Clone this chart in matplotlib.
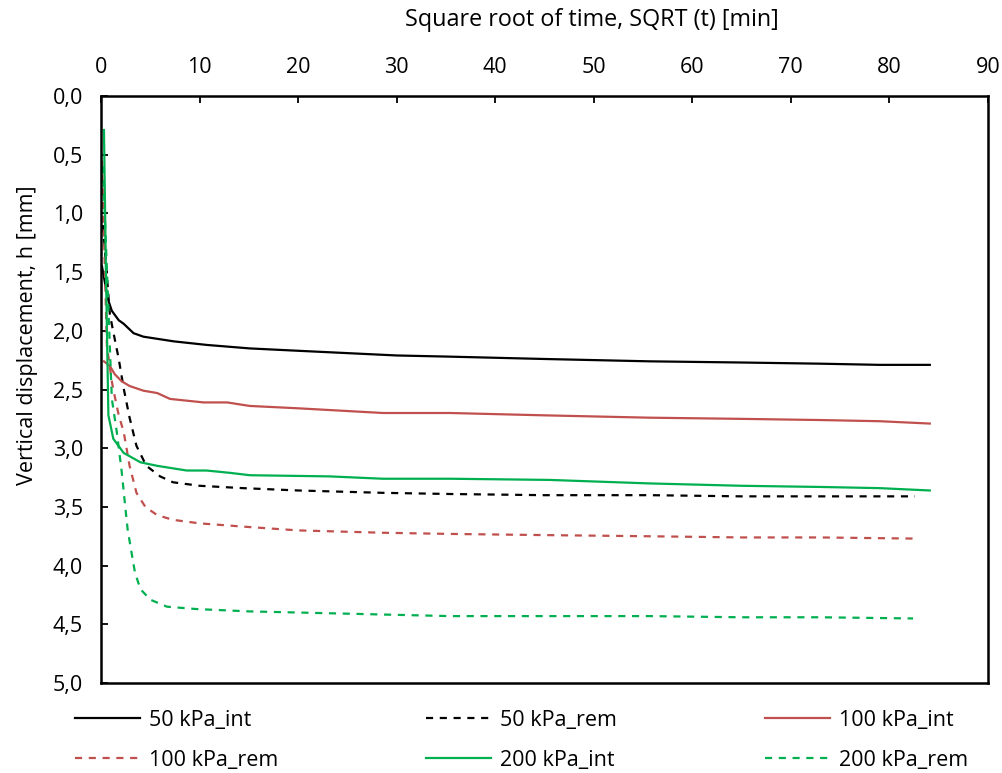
import matplotlib
matplotlib.use("Agg")
import matplotlib.pyplot as plt
import numpy as np

plt.rcParams['font.family'] = ['Open Sans', 'DejaVu Sans']

# ---- data (sqrt(t) [min], vertical displacement h [mm]) ----
x_50_int = [0.1, 0.7, 1.1, 1.8, 2.3, 2.8, 3.3, 4.3, 7.4, 10.7, 15.1, 20, 25, 30, 35.4, 45, 55.7, 65, 73, 79, 84.1]
h_50_int = [1.45, 1.73, 1.83, 1.91, 1.94, 1.98, 2.02, 2.05, 2.09, 2.12, 2.15, 2.17, 2.19, 2.21, 2.22, 2.24, 2.26, 2.27, 2.28, 2.29, 2.29]

x_50_rem = [0.2, 0.9, 1.25, 1.8, 2.3, 2.9, 3.6, 4.6, 6.0, 7.3, 10.0, 14.4, 20, 28.6, 35.4, 45, 55.7, 65, 73, 82.6]
h_50_rem = [1.1, 1.86, 2.01, 2.24, 2.49, 2.74, 2.98, 3.15, 3.24, 3.29, 3.32, 3.34, 3.36, 3.38, 3.39, 3.40, 3.40, 3.41, 3.41, 3.41]

x_100_int = [0.3, 0.9, 1.4, 2.1, 2.9, 4.3, 5.7, 7.0, 10.4, 12.8, 15.1, 20, 28.6, 35.4, 45, 55.7, 65, 73, 79, 84.1]
h_100_int = [2.26, 2.30, 2.37, 2.43, 2.47, 2.51, 2.53, 2.58, 2.61, 2.61, 2.64, 2.66, 2.70, 2.70, 2.72, 2.74, 2.75, 2.76, 2.77, 2.79]

x_100_rem = [0.1, 0.6, 1.1, 1.25, 1.8, 2.3, 2.9, 3.6, 4.5, 5.7, 7.3, 10.0, 14.8, 20, 28.6, 35.4, 45, 55.7, 65, 73, 82.8]
h_100_rem = [0.55, 2.13, 2.43, 2.50, 2.72, 2.86, 3.15, 3.38, 3.50, 3.57, 3.61, 3.64, 3.67, 3.70, 3.72, 3.73, 3.74, 3.75, 3.76, 3.76, 3.77]

x_200_int = [0.3, 0.5, 0.75, 1.25, 2.3, 4.0, 5.7, 8.7, 10.7, 13.1, 15.1, 23.2, 28.6, 35.4, 45.5, 55.7, 65, 73, 79, 84.1]
h_200_int = [0.29, 1.5, 2.72, 2.92, 3.04, 3.12, 3.15, 3.19, 3.19, 3.21, 3.23, 3.24, 3.26, 3.26, 3.27, 3.30, 3.32, 3.33, 3.34, 3.36]

x_200_rem = [0.2, 1.1, 1.6, 2.1, 2.45, 2.7, 3.1, 3.45, 4.0, 5.0, 6.7, 9.7, 12.4, 15.1, 25.3, 35.4, 45, 55.7, 65, 73, 82.4]
h_200_rem = [0.6, 2.58, 2.86, 3.2, 3.49, 3.69, 3.89, 4.06, 4.2, 4.29, 4.35, 4.37, 4.38, 4.39, 4.41, 4.43, 4.43, 4.43, 4.44, 4.44, 4.45]

x_ticks = [0, 10, 20, 30, 40, 50, 60, 70, 80, 90]
y_ticks = [0.0, 0.5, 1.0, 1.5, 2.0, 2.5, 3.0, 3.5, 4.0, 4.5, 5.0]

BLACK = '#000000'
RED = '#C0504D'
GREEN = '#00B050'

fig = plt.figure(figsize=(10.03, 7.73), dpi=100)
ax = fig.add_axes([0.1007, 0.1164, 0.8843, 0.7594])

lw = 1.6
dash = (3.2, 3.0)
l1, = ax.plot(x_50_int, h_50_int, color=BLACK, lw=lw, label='50 kPa_int')
l2, = ax.plot(x_50_rem, h_50_rem, color=BLACK, lw=lw, dashes=dash, label='50 kPa_rem')
l3, = ax.plot(x_100_int, h_100_int, color=RED, lw=lw, label='100 kPa_int')
l4, = ax.plot(x_100_rem, h_100_rem, color=RED, lw=lw, dashes=dash, label='100 kPa_rem')
l5, = ax.plot(x_200_int, h_200_int, color=GREEN, lw=lw, label='200 kPa_int')
l6, = ax.plot(x_200_rem, h_200_rem, color=GREEN, lw=lw, dashes=dash, label='200 kPa_rem')

ax.set_xlim(0, 90)
ax.set_ylim(5, 0)
ax.xaxis.tick_top()
ax.xaxis.set_label_position('top')
ax.set_xticks(x_ticks)
ax.set_xticklabels([str(v) for v in x_ticks])
ax.set_yticks(y_ticks)
ax.set_yticklabels([f"{v:.1f}".replace('.', ',') for v in y_ticks])

fs = 15.5
ax.tick_params(axis='both', direction='in', length=5, width=1.3, labelsize=fs, color='black')
ax.tick_params(axis='x', pad=13)
ax.tick_params(axis='y', pad=13)
for s in ax.spines.values():
    s.set_linewidth(1.8)
    s.set_color('black')

ax.set_xlabel('Square root of time, SQRT (t) [min]', fontsize=16.8)
ax.set_ylabel('Vertical displacement, h [mm]', fontsize=fs)

# position labels (in axes fraction) to match the reference layout
ax.xaxis.set_label_coords(0.553, 1.0 + (96 - 32) / 587.0)
ax.yaxis.set_label_coords(-(101 - 27) / 887.0, 0.593)
ax.xaxis.label.set_verticalalignment('bottom')
ax.yaxis.label.set_verticalalignment('center')

handles = [l1, l4, l2, l5, l3, l6]
fig.legend(handles=handles, labels=[h.get_label() for h in handles],
           loc='lower center', bbox_to_anchor=(0.52, -0.0225), ncol=3, frameon=False,
           fontsize=fs, handlelength=3.0, handletextpad=0.42, columnspacing=6.9,
           labelspacing=0.9)

fig.savefig('out.png', dpi=100)
